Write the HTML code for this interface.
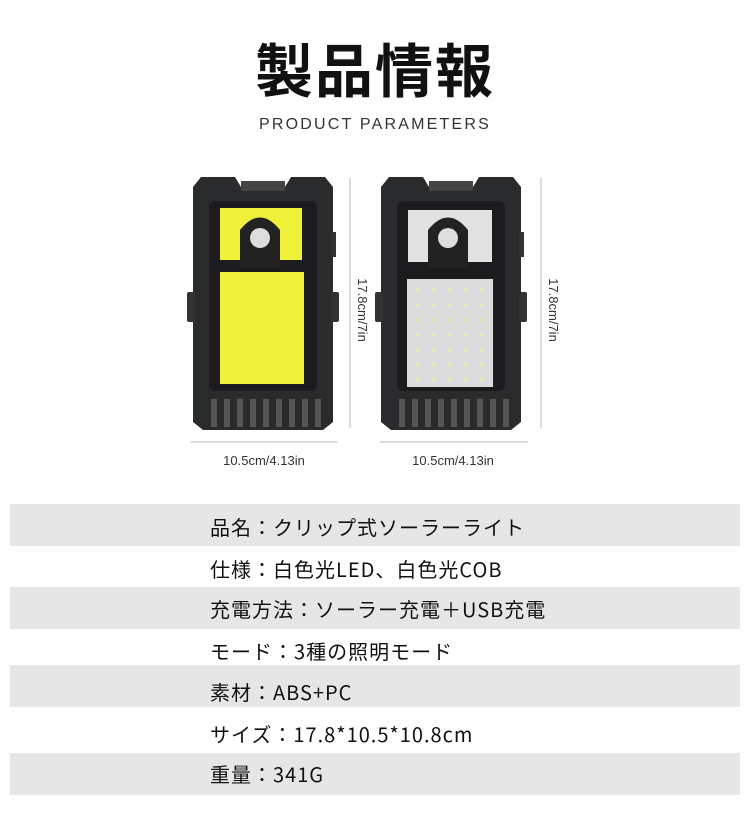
<!DOCTYPE html>
<html><head><meta charset="utf-8"><style>
body{margin:0;width:750px;height:818px;background:#fff;position:relative;overflow:hidden;font-family:"Liberation Sans","Noto Sans CJK JP",sans-serif}
.t{position:absolute;left:0;width:750px;text-align:center}
.row{position:absolute;left:10px;width:730px;height:42px}
.g{background:#e6e6e6}
.tx{position:absolute;left:210px;font-size:20px;color:#111;font-weight:400;font-family:"Noto Sans CJK JP",sans-serif;letter-spacing:1px;white-space:nowrap;line-height:22px}
</style></head><body>
<div class="t" style="top:32px;font-size:58px;font-weight:bold;font-family:'Noto Sans CJK JP',sans-serif;color:#111;line-height:70px;letter-spacing:2px">製品情報</div>
<div class="t" style="top:116px;font-size:16px;letter-spacing:2.2px;color:#333">PRODUCT PARAMETERS</div>
<svg style="position:absolute;left:0;top:0" width="750" height="500">
<defs>
<g id="dev">
 <path d="M8,0 L42,0 L48,10 L92,10 L98,0 L132,0 L140,10 L140,245 L130,253 L10,253 L0,245 L0,10 Z" fill="#2a2b2d"/>
 <rect x="48" y="4" width="44" height="10" fill="#444"/>
 <rect x="16" y="24" width="108" height="190" rx="6" fill="#1c1c1e"/>
 <rect x="-6" y="115" width="8" height="30" rx="2" fill="#333"/>
 <rect x="138" y="115" width="8" height="30" rx="2" fill="#333"/>
 <rect x="138" y="55" width="5" height="25" fill="#333"/>
 <g fill="#555"><rect x="18" y="222" width="6" height="28"/><rect x="31" y="222" width="6" height="28"/><rect x="44" y="222" width="6" height="28"/><rect x="57" y="222" width="6" height="28"/><rect x="70" y="222" width="6" height="28"/><rect x="83" y="222" width="6" height="28"/><rect x="96" y="222" width="6" height="28"/><rect x="109" y="222" width="6" height="28"/><rect x="122" y="222" width="6" height="28"/></g>
</g>
<g id="r"><circle cx="418" cy="0" r="1.6"/><circle cx="434" cy="0" r="1.6"/><circle cx="450" cy="0" r="1.6"/><circle cx="466" cy="0" r="1.6"/><circle cx="482" cy="0" r="1.6"/></g>
</defs>
<use href="#dev" x="193" y="177"/>
<rect x="220" y="208" width="82" height="52" fill="#eef03a"/>
<rect x="220" y="272" width="84" height="112" fill="#f0f23a"/>
<use href="#dev" x="381" y="177"/>
<rect x="408" y="210" width="84" height="52" fill="#e2e2e2"/>
<rect x="407" y="279" width="86" height="108" fill="#dcdcdc"/>
<path d="M240,268 L240,230 Q260,205 280,230 L280,268 Z" fill="#222"/>
<circle cx="260" cy="238" r="10" fill="#ddd"/>
<path d="M428,268 L428,230 Q448,205 468,230 L468,268 Z" fill="#222"/>
<circle cx="448" cy="238" r="10" fill="#ddd"/>
<g fill="#e8f0a0">
<use href="#r" y="290"/><use href="#r" y="305"/><use href="#r" y="320"/><use href="#r" y="335"/><use href="#r" y="350"/><use href="#r" y="365"/><use href="#r" y="379"/>
</g>
<g stroke="#bbb" stroke-width="1">
<line x1="350" y1="178" x2="350" y2="428"/><line x1="541" y1="178" x2="541" y2="428"/>
<line x1="190" y1="442" x2="338" y2="442"/><line x1="380" y1="442" x2="528" y2="442"/>
</g>
<g font-family="Liberation Sans" font-size="13" fill="#333">
<text x="264" y="465" text-anchor="middle">10.5cm/4.13in</text>
<text x="453" y="465" text-anchor="middle">10.5cm/4.13in</text>
<text transform="translate(358,310) rotate(90)" text-anchor="middle">17.8cm/7in</text>
<text transform="translate(549,310) rotate(90)" text-anchor="middle">17.8cm/7in</text>
</g>
</svg>
<div class="row g" style="top:504px"></div>
<div class="row g" style="top:587px"></div>
<div class="row g" style="top:665px"></div>
<div class="row g" style="top:753px"></div>
<div class="tx" style="top:516px">品名：クリップ式ソーラーライト</div>
<div class="tx" style="top:558px">仕様：白色光LED、白色光COB</div>
<div class="tx" style="top:598px">充電方法：ソーラー充電＋USB充電</div>
<div class="tx" style="top:640px">モード：3種の照明モード</div>
<div class="tx" style="top:681px">素材：ABS+PC</div>
<div class="tx" style="top:723px">サイズ：17.8*10.5*10.8cm</div>
<div class="tx" style="top:763px">重量：341G</div>
</body></html>
